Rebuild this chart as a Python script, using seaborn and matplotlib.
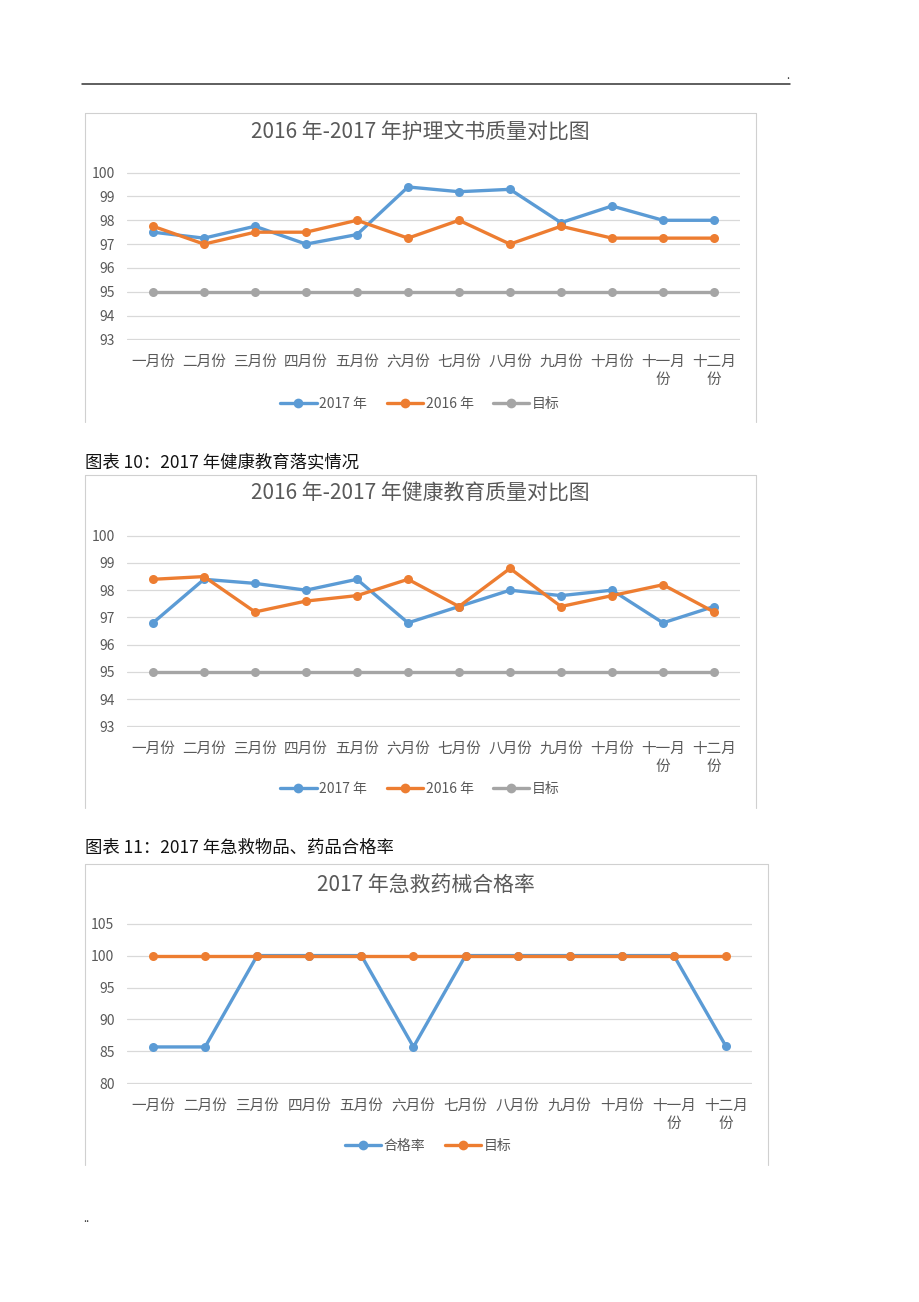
import matplotlib
matplotlib.use("Agg")
import matplotlib.pyplot as plt
from matplotlib.lines import Line2D
import seaborn as sns
import pandas as pd

# ---------------- data ----------------
months = ["一月份", "二月份", "三月份", "四月份", "五月份", "六月份",
          "七月份", "八月份", "九月份", "十月份", "十一月份", "十二月份"]

c1_title = "2016 年-2017 年护理文书质量对比图"
c1_2017 = [97.5, 97.25, 97.75, 97.0, 97.4, 99.4, 99.2, 99.3, 97.9, 98.6, 98.0, 98.0]
c1_2016 = [97.75, 97.0, 97.5, 97.5, 98.0, 97.25, 98.0, 97.0, 97.75, 97.25, 97.25, 97.25]
c1_target = [95] * 12
c1_yticks = [93, 94, 95, 96, 97, 98, 99, 100]

c2_caption = "图表 10：2017 年健康教育落实情况"
c2_title = "2016 年-2017 年健康教育质量对比图"
c2_2017 = [96.8, 98.4, 98.25, 98.0, 98.4, 96.8, 97.4, 98.0, 97.8, 98.0, 96.8, 97.4]
c2_2016 = [98.4, 98.5, 97.2, 97.6, 97.8, 98.4, 97.4, 98.8, 97.4, 97.8, 98.2, 97.2]
c2_target = [95] * 12
c2_yticks = [93, 94, 95, 96, 97, 98, 99, 100]

c3_caption = "图表 11：2017 年急救物品、药品合格率"
c3_title = "2017 年急救药械合格率"
c3_rate = [85.7, 85.7, 100, 100, 100, 85.7, 100, 100, 100, 100, 100, 85.8]
c3_target = [100] * 12
c3_yticks = [80, 85, 90, 95, 100, 105]

# ---------------- style ----------------
sns.set_theme(style="white")
plt.rcParams['font.family'] = ['Noto Sans CJK SC', 'DejaVu Sans']
plt.rcParams['axes.unicode_minus'] = False

BLUE = "#5B9BD5"
ORANGE = "#ED7D31"
GRAY = "#A5A5A5"
GRID = "#D9D9D9"
TXT = "#595959"

W, H = 920, 1302
fig = plt.figure(figsize=(W / 100, H / 100), dpi=100)


def fx(x):
    return x / W


def fy(y):
    return 1 - y / H


def wrap(lbl):
    return lbl[:3] + "\n" + lbl[3:] if len(lbl) > 3 else lbl


def frame(x0, x1, y0, y1):
    for xs, ys in (([x0, x0], [y0, y1]), ([x1, x1], [y0, y1]), ([x0, x1], [y0, y0])):
        fig.add_artist(Line2D([fx(v) for v in xs], [fy(v) for v in ys],
                              color="#D0D0D0", lw=0.8))


def chart(series, names, colors, yticks, box, plot, title, title_xy, leg_xy):
    x0, x1, y0, y1 = box
    frame(x0, x1, y0, y1)
    fig.text(fx(title_xy[0]), fy(title_xy[1]), title, ha="center", va="center",
             fontsize=15, color=TXT)
    px0, px1, py0, py1 = plot
    ax = fig.add_axes([fx(px0), fy(py1), (px1 - px0) / W, (py1 - py0) / H])
    rows = []
    for name, vals in zip(names, series):
        for i, v in enumerate(vals):
            rows.append({"month": i, "value": v, "series": name})
    df = pd.DataFrame(rows)
    sns.lineplot(data=df, x="month", y="value", hue="series", hue_order=names,
                 palette=dict(zip(names, colors)), marker="o", markersize=6.5,
                 markeredgewidth=0, linewidth=2.4, ax=ax, legend=False)
    span = yticks[-1] - yticks[0]
    ax.set_xlim(-0.5, len(months) - 0.5)
    ax.set_ylim(yticks[0] - span * 0.004, yticks[-1] + span * 0.004)
    ax.set_yticks(yticks)
    ax.set_yticklabels([str(t) for t in yticks])
    ax.set_xticks(range(len(months)))
    ax.set_xticklabels([wrap(m) for m in months], linespacing=1.35)
    ax.tick_params(axis="x", length=0, pad=11, labelsize=10.5, labelcolor=TXT)
    ax.tick_params(axis="y", length=0, pad=9, labelsize=10, labelcolor=TXT)
    ax.set_xlabel("")
    ax.set_ylabel("")
    ax.yaxis.grid(True, color=GRID, lw=0.9)
    ax.xaxis.grid(False)
    ax.set_axisbelow(True)
    for s in ax.spines.values():
        s.set_visible(False)
    handles = [Line2D([], [], color=c, lw=2.4, marker="o", markersize=7,
                      markeredgewidth=0) for c in colors]
    fig.legend(handles, names, loc="center", ncol=len(names),
               bbox_to_anchor=(fx(leg_xy[0]), fy(leg_xy[1])), frameon=False,
               fontsize=10, labelcolor=TXT, handlelength=2.6, handletextpad=0.2,
               columnspacing=1.4)
    return ax


# top rule of the page
fig.add_artist(Line2D([fx(82), fx(790)], [fy(84), fy(84)], color="#333333", lw=1.1))
fig.text(fx(788), fy(76), ".", fontsize=8, color="#333333", ha="center", va="center")

# chart 1
chart([c1_2017, c1_2016, c1_target], ["2017 年", "2016 年", "目标"],
      [BLUE, ORANGE, GRAY], c1_yticks,
      box=(85, 756, 113, 422), plot=(127.5, 739.5, 172, 340),
      title=c1_title, title_xy=(420, 133), leg_xy=(420, 404))

# chart 2
fig.text(fx(85), fy(462), c2_caption, ha="left", va="center", fontsize=12.5, color="#111111")
chart([c2_2017, c2_2016, c2_target], ["2017 年", "2016 年", "目标"],
      [BLUE, ORANGE, GRAY], c2_yticks,
      box=(85, 756, 475, 808), plot=(127.5, 739.5, 535, 727),
      title=c2_title, title_xy=(420, 494), leg_xy=(420, 789))

# chart 3
fig.text(fx(85), fy(848), c3_caption, ha="left", va="center", fontsize=12.5, color="#111111")
chart([c3_rate, c3_target], ["合格率", "目标"],
      [BLUE, ORANGE], c3_yticks,
      box=(85, 768, 864, 1165), plot=(127, 752, 923, 1084),
      title=c3_title, title_xy=(426, 885), leg_xy=(428, 1146))

fig.text(fx(86), fy(1219), "..", fontsize=8, color="#333333", ha="center", va="center")

fig.savefig("out.png", dpi=100)
